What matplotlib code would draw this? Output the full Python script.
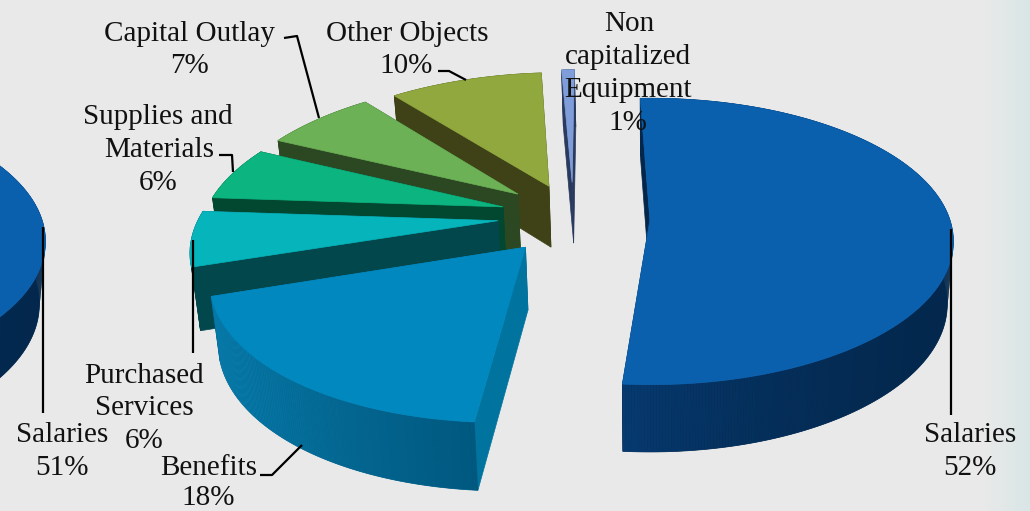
import numpy as np
import matplotlib
matplotlib.use('Agg')
import matplotlib.pyplot as plt
from matplotlib.collections import PolyCollection
from matplotlib.colors import to_rgb

# slices, clockwise from the top
categories = ['Salaries', 'Benefits', 'Purchased Services', 'Supplies and Materials',
              'Capital Outlay', 'Other Objects', 'Non capitalized Equipment']
values = [52, 18, 6, 6, 7, 10, 1]
ghost_value = 51  # the next chart's salaries slice, cut off by the left edge

# how far each slice is pulled out of the pie (pie radius = 1)
explode_x = [.003, -.40, -.503, -.493, -.449, -.346, -.267]
explode_y = [0, .189, .005, -.095, -.19, -.25, -.28]

# small correction of the slice boundaries, degrees (the view distorts them)
edge_nudge = [-.4, -1, 1.3, 2, 2, 2, .7, 0]

# colours: top, cut face, rim at start of arc, rim at end of arc
top_colors = ['#0b60ae', '#0088bf', '#06b4bb', '#0cb47f', '#6cb155', '#90a83e', '#7f9ed9']
face_colors = ['#03264a', '#00739f', '#02474c', '#024730', '#2c4822', '#3e4216', '#2a3a5e']
rim_start = ['#03264a', '#00587f', '#02474c', '#024730', '#2c4822', '#3e4216', '#2a3a5e']
rim_end = ['#063a70', '#0a84b6', '#02474c', '#024730', '#2c4822', '#3e4216', '#2a3a5e']
rim_power = [6, 1, 1, 1, 1, 1, 1]

# projection of the pie onto the page
cx, cy = 649, 220
rx, ry = 300, 140
persp = .15
height = 62
start_angle = -1.7


def project(X, Y):
    w = 1 - persp * Y
    return cx_now + rx * X / w, cy + ry * Y / w, w


def lower(x, y, w):
    # same point at the bottom of the slab
    return cx_now + (x - cx_now) * .98, y + height / np.sqrt(w)


def draw_slice(ax, a0, a1, ex, ey, top, face, c0, c1, power, zorder):
    t = np.radians(np.linspace(a0, a1, max(int(a1 - a0) * 2, 6)))
    x, y, w = project(ex + np.sin(t), ey - np.cos(t))
    xb, yb = lower(x, y, w)
    ax0, ay0, aw = project(np.array(ex), np.array(ey))
    axb, ayb = lower(ax0, ay0, aw)

    # the two cut faces
    for i in (-1, 0):
        ax.fill([x[i], ax0, axb, xb[i]], [y[i], ay0, ayb, yb[i]], color=face, lw=.5, zorder=zorder)

    # rim, shaded along the arc, on a flat band so the seams do not show
    c0, c1 = np.array(to_rgb(c0)), np.array(to_rgb(c1))
    ax.fill(np.r_[x, xb[::-1]], np.r_[y, yb[::-1]], color=c0 + (c1 - c0) * .25, lw=.5, zorder=zorder)
    quads, cols = [], []
    for i in range(len(t) - 1):
        quads.append([(x[i], y[i]), (x[i + 1], y[i + 1]), (xb[i + 1], yb[i + 1]), (xb[i], yb[i])])
        f = (i / (len(t) - 2)) ** power
        cols.append(c0 + (c1 - c0) * f)
    ax.add_collection(PolyCollection(quads, facecolors=cols, edgecolors='none', zorder=zorder))

    # top
    ax.fill(np.r_[ax0, x], np.r_[ay0, y], color=top, lw=.5, zorder=zorder)


fig = plt.figure(figsize=(10.3, 5.11), dpi=100)
ax = fig.add_axes([0, 0, 1, 1])
ax.set_xlim(0, 1030)
ax.set_ylim(511, 0)
ax.axis('off')

# page background, slightly tinted at the far right
col_x = np.arange(1030)
tint = np.clip((col_x - 985) / 45, 0, 1)[None, :, None]
bg = np.array(to_rgb('#e9e9e9')) * (1 - tint) + np.array(to_rgb('#d9e6e6')) * tint
ax.imshow(bg, extent=[0, 1030, 511, 0], aspect='auto', zorder=0)

# ghost slice on the left
cx_now = cx - 907
draw_slice(ax, start_angle, start_angle + ghost_value * 3.6, 0, 0,
           top_colors[0], face_colors[0], rim_start[0], rim_end[0], rim_power[0], 1)

# main pie, back slices first
cx_now = cx
edges = start_angle + np.r_[0, np.cumsum(values)] * 3.6 + np.array(edge_nudge)
for z, i in enumerate([6, 5, 4, 3, 2, 1, 0]):
    draw_slice(ax, edges[i], edges[i + 1], explode_x[i], explode_y[i],
               top_colors[i], face_colors[i], rim_start[i], rim_end[i], rim_power[i], 2 + z)

# leader lines
leaders = [
    ([951, 951], [229, 415]),
    ([43, 43], [227, 413]),
    ([302, 272, 260], [445, 475, 475]),
    ([193, 193], [240, 353]),
    ([219, 232, 233], [155, 155, 172]),
    ([284, 297, 319], [38, 36, 118]),
    ([438, 449, 466], [71, 71, 80]),
]
for lx, ly in leaders:
    ax.plot(lx, ly, color='k', lw=1.6, zorder=20, solid_capstyle='butt')

# labels, one text per line: text, centre x, baseline y
plt.rcParams['font.family'] = ['Liberation Serif', 'DejaVu Serif']
labels = [
    ('Capital Outlay', 189, 41), ('7%', 189, 73),
    ('Other Objects', 407, 41), ('10%', 406, 73),
    ('Non', 629, 31), ('capitalized', 628, 64), ('Equipment', 628, 97), ('1%', 628, 130),
    ('Supplies and', 158, 124), ('Materials', 159, 157), ('6%', 158, 190),
    ('Purchased', 144, 383), ('Services', 144, 415), ('6%', 144, 448),
    ('Salaries', 62, 442), ('51%', 62, 475),
    ('Benefits', 209, 475), ('18%', 208, 505),
    ('Salaries', 970, 442), ('52%', 970, 475),
]
for txt, tx, ty in labels:
    ax.text(tx, ty, txt, ha='center', va='baseline', fontsize=21, color='#111111', zorder=21)

fig.savefig('out.png', dpi=100)
